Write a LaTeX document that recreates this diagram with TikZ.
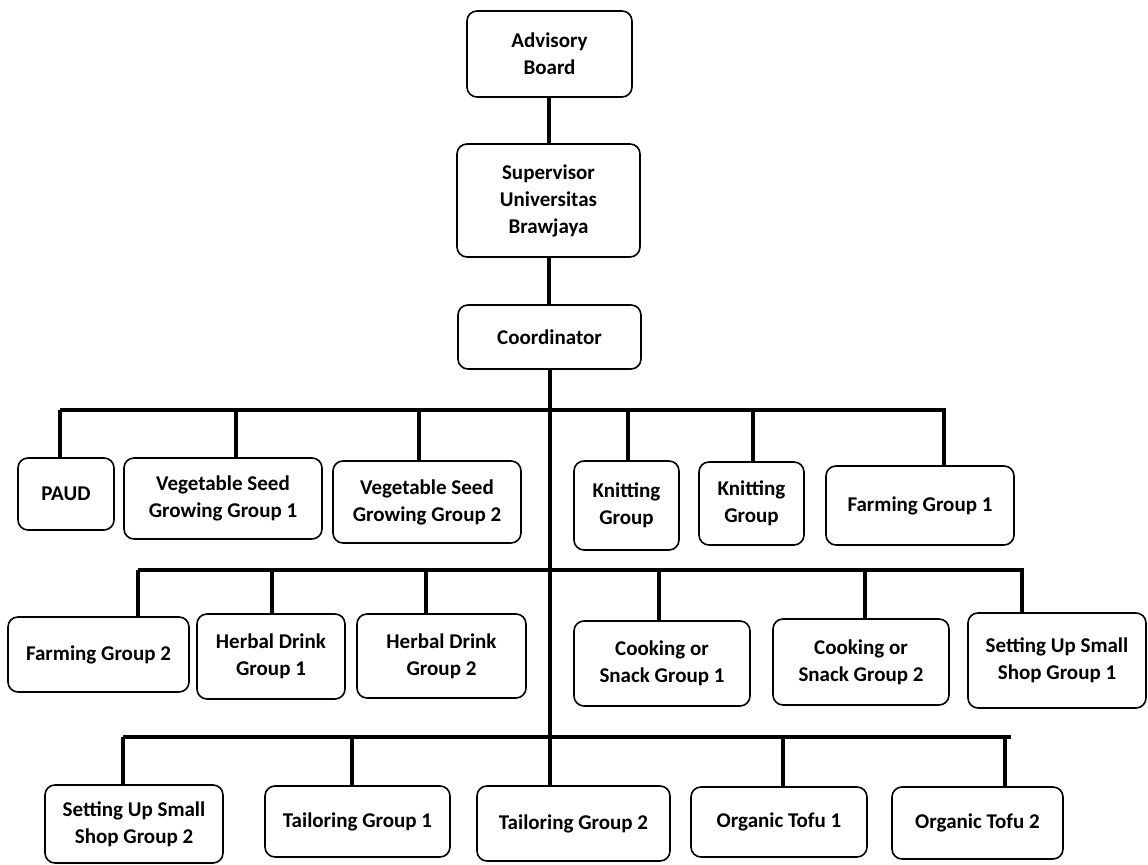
\documentclass[tikz,border=0pt]{standalone}
\usepackage{fontspec}
\setmainfont{Carlito}
\begin{document}
\begin{tikzpicture}[x=0.5pt,y=-0.5pt,
  box/.style={draw, line width=0.8pt, rounded corners=5pt, align=center,
    inner sep=0pt, font=\fontsize{10.5}{13.5}\selectfont\bfseries},
  conn/.style={line width=1.6pt}]
\useasboundingbox (0,0) rectangle (1148,865);
% top chain
\node[box, minimum width=82.5pt, minimum height=43pt] (adv) at (549.5,54) {Advisory\\Board};
\node[box, minimum width=91.5pt, minimum height=56.5pt] (sup) at (548.5,200.5) {Supervisor\\Universitas\\Brawjaya};
\node[box, minimum width=91.5pt, minimum height=32pt] (coo) at (549.5,337) {Coordinator};
% row 1
\node[box, minimum width=48pt, minimum height=36pt] (paud) at (66,494) {PAUD};
\node[box, minimum width=99pt, minimum height=40.5pt] (veg1) at (223,498.5) {Vegetable Seed\\Growing Group 1};
\node[box, minimum width=94pt, minimum height=41pt] (veg2) at (427,502) {Vegetable Seed\\Growing Group 2};
\node[box, minimum width=52.5pt, minimum height=44.5pt] (knit1) at (626.5,505.5) {Knitting\\Group};
\node[box, minimum width=52.5pt, minimum height=41.5pt] (knit2) at (751.5,503.5) {Knitting\\Group};
\node[box, minimum width=94pt, minimum height=39.5pt] (farm1) at (920,505.5) {Farming Group 1};
% row 2
\node[box, minimum width=90.5pt, minimum height=37.5pt] (farm2) at (98.5,654.5) {Farming Group 2};
\node[box, minimum width=74pt, minimum height=42.5pt] (herb1) at (271,656.5) {Herbal Drink\\Group 1};
\node[box, minimum width=84.5pt, minimum height=42pt] (herb2) at (441.5,656) {Herbal Drink\\Group 2};
\node[box, minimum width=88pt, minimum height=42.5pt] (cook1) at (662,663.5) {Cooking or\\Snack Group 1};
\node[box, minimum width=88pt, minimum height=43pt] (cook2) at (861,662) {Cooking or\\Snack Group 2};
\node[box, minimum width=89pt, minimum height=47.5pt] (set1) at (1057,660.5) {Setting Up Small\\Shop Group 1};
% row 3
\node[box, minimum width=89pt, minimum height=39pt] (set2) at (134,824) {Setting Up Small\\Shop Group 2};
\node[box, minimum width=92.5pt, minimum height=35.5pt] (tail1) at (357.5,821.5) {Tailoring Group 1};
\node[box, minimum width=96.5pt, minimum height=37.5pt] (tail2) at (573.5,823.5) {Tailoring Group 2};
\node[box, minimum width=88pt, minimum height=35pt] (tofu1) at (779,822) {Organic Tofu 1};
\node[box, minimum width=85.5pt, minimum height=36pt] (tofu2) at (977.5,823) {Organic Tofu 2};
% bus coordinates
\coordinate (b1l) at (60,410);  \coordinate (b1r) at (946,410);
\coordinate (b2l) at (138,570); \coordinate (b2r) at (1024,570);
\coordinate (b3l) at (123,737); \coordinate (b3r) at (1011,737);
\coordinate (trunk) at (550,410);
\coordinate (top) at (549,0);
% connectors
\draw[conn] (top |- adv.south) -- (top |- sup.north);
\draw[conn] (top |- sup.south) -- (top |- coo.north);
\draw[conn] (trunk |- coo.south) -- (trunk |- tail2.north);
\draw[conn] (b1l) -- (b1r);
\draw[conn] (b2l) -- (b2r);
\draw[conn] (b3l) -- (b3r);
% row 1 drops
\draw[conn] (b1l) -- (b1l |- paud.north);
\draw[conn] (236,410) -- (236,0 |- veg1.north);
\draw[conn] (419,410) -- (419,0 |- veg2.north);
\draw[conn] (628,410) -- (628,0 |- knit1.north);
\draw[conn] (753,410) -- (753,0 |- knit2.north);
\draw[conn] (944,410) -- (944,0 |- farm1.north);
% row 2 drops
\draw[conn] (b2l) -- (b2l |- farm2.north);
\draw[conn] (272,570) -- (272,0 |- herb1.north);
\draw[conn] (426,570) -- (426,0 |- herb2.north);
\draw[conn] (659,570) -- (659,0 |- cook1.north);
\draw[conn] (865,570) -- (865,0 |- cook2.north);
\draw[conn] (1022,570) -- (1022,0 |- set1.north);
% row 3 drops
\draw[conn] (b3l) -- (b3l |- set2.north);
\draw[conn] (352,737) -- (352,0 |- tail1.north);
\draw[conn] (783,737) -- (783,0 |- tofu1.north);
\draw[conn] (1005,737) -- (1005,0 |- tofu2.north);
\end{tikzpicture}
\end{document}
